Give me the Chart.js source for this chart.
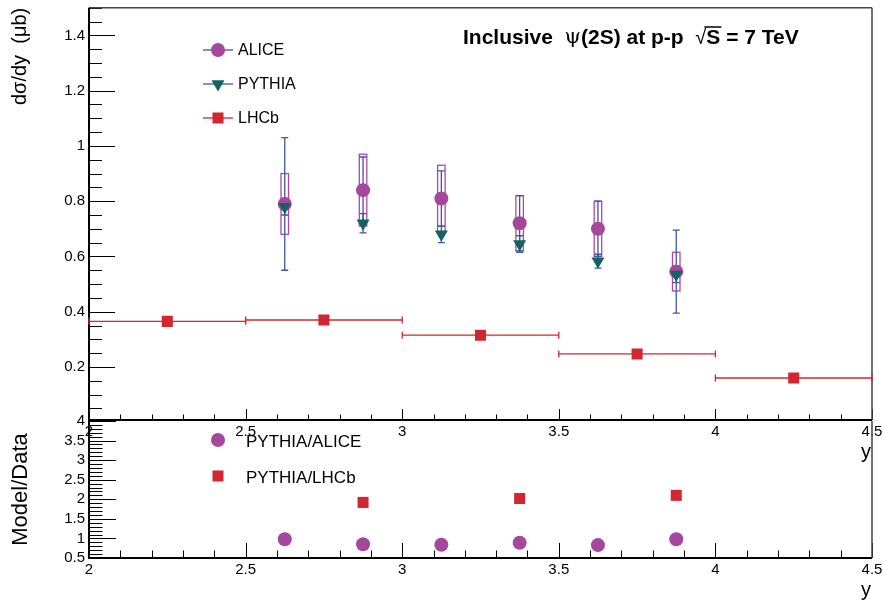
<!DOCTYPE html>
<html>
<head>
<meta charset="utf-8">
<script src="https://cdn.jsdelivr.net/npm/chart.js@4.4.1/dist/chart.umd.min.js"></script>
<style>
  html, body { margin: 0; padding: 0; background: #fff; }
  #wrap { position: relative; width: 883px; height: 604px; }
  #wrap canvas { position: absolute; left: 0; top: 0; }
</style>
</head>
<body>
<div id="wrap">
  <canvas id="mainChart" width="883" height="604"></canvas>
  <canvas id="ratioChart" width="883" height="604"></canvas>
</div>
<script>
// ALICE / PYTHIA rapidity bins
const aliceY = [2.625, 2.875, 3.125, 3.375, 3.625, 3.875];
const aliceXsec = [0.79, 0.84, 0.81, 0.72, 0.70, 0.545];
const aliceStat = [0.24, 0.12, 0.10, 0.10, 0.10, 0.15];
const aliceSyst = [0.11, 0.13, 0.12, 0.10, 0.10, 0.07];
const pythiaXsec = [0.78, 0.72, 0.68, 0.645, 0.583, 0.535];
const pythiaErr = [0.03, 0.035, 0.03, 0.03, 0.025, 0.03];

// LHCb bins
const lhcbY = [2.25, 2.75, 3.25, 3.75, 4.25];
const lhcbXsec = [0.365, 0.37, 0.315, 0.247, 0.16];
const lhcbYErr = [0.015, 0.008, 0.008, 0.006, 0.006];
const lhcbBinHalf = [0.25, 0.25, 0.25, 0.25, 0.25];

// ratios
const ratioAlice = [0.98, 0.85, 0.84, 0.89, 0.83, 0.98];
const ratioLhcbY = [2.875, 3.375, 3.875];
const ratioLhcb = [1.92, 2.02, 2.10];

// tick labels
const xTicks = [2, 2.5, 3, 3.5, 4, 4.5];
const mainYTicks = [0.2, 0.4, 0.6, 0.8, 1, 1.2, 1.4];
const ratioYTicks = [0.5, 1, 1.5, 2, 2.5, 3, 3.5, 4];

const seriesNames = ['ALICE', 'PYTHIA', 'LHCb'];
const ratioNames = ['PYTHIA/ALICE', 'PYTHIA/LHCb'];

const FONT = '"Liberation Sans", Arial, sans-serif';
const PURPLE = '#a5479d';
const BOX = '#b546a8';
const BLUE = '#3d56a6';
const TEAL = '#12645f';
const RED = '#d22630';

function drawMarker(ctx, style, cx, cy, r, color) {
    ctx.fillStyle = color;
    ctx.beginPath();
    if (style === 'circle') {
        ctx.arc(cx, cy, r, 0, Math.PI * 2);
    } else if (style === 'tri') {
        ctx.moveTo(cx - r * 0.866, cy - r * 0.5);
        ctx.lineTo(cx + r * 0.866, cy - r * 0.5);
        ctx.lineTo(cx, cy + r);
        ctx.closePath();
    } else {
        const h = r * Math.SQRT1_2;
        ctx.rect(cx - h, cy - h, 2 * h, 2 * h);
    }
    ctx.fill();
}

// ROOT style frame with inward ticks
const rootAxes = {
    id: 'rootAxes',
    beforeDatasetsDraw(chart, args, o) {
        const { ctx, chartArea: a, scales: { x, y } } = chart;
        ctx.save();
        ctx.strokeStyle = '#000';
        ctx.lineWidth = 1;
        ctx.beginPath();
        for (let i = 0; i <= 25; i++) {
            const v = 2 + i * 0.1;
            const px = Math.round(x.getPixelForValue(v)) + 0.5;
            const len = i % 5 === 0 ? o.xLen : o.xLen / 2;
            ctx.moveTo(px, a.bottom);
            ctx.lineTo(px, a.bottom - len);
        }
        for (let i = o.yFrom; i <= o.yTo; i++) {
            const v = i * o.yStep;
            if (v < y.min || v > y.max) continue;
            const py = Math.round(y.getPixelForValue(v)) + 0.5;
            const len = i % o.yPer === 0 ? o.yLen : o.yLen / 2;
            ctx.moveTo(a.left, py);
            ctx.lineTo(a.left + len, py);
        }
        ctx.stroke();

        // top/right frame
        ctx.strokeStyle = '#444';
        ctx.lineWidth = 1.5;
        ctx.beginPath();
        if (o.topLine) {
            ctx.moveTo(a.left, a.top);
            ctx.lineTo(a.right, a.top);
        }
        ctx.moveTo(a.right, a.top);
        ctx.lineTo(a.right, a.bottom);
        ctx.stroke();

        // axis lines
        ctx.strokeStyle = '#000';
        ctx.lineWidth = 2;
        ctx.beginPath();
        ctx.moveTo(a.left, a.top);
        ctx.lineTo(a.left, a.bottom);
        ctx.lineTo(a.right, a.bottom);
        ctx.stroke();
        ctx.restore();
    }
};

// error bars and systematic boxes of the main pad
const errorBars = {
    id: 'errorBars',
    beforeDatasetsDraw(chart) {
        const { ctx, scales: { x, y } } = chart;
        ctx.save();
        // ALICE systematic boxes
        ctx.strokeStyle = BOX;
        ctx.lineWidth = 1.3;
        aliceY.forEach((v, i) => {
            const x0 = x.getPixelForValue(v - 0.012);
            const x1 = x.getPixelForValue(v + 0.012);
            const y0 = y.getPixelForValue(aliceXsec[i] + aliceSyst[i]);
            const y1 = y.getPixelForValue(aliceXsec[i] - aliceSyst[i]);
            ctx.strokeRect(x0, y0, x1 - x0, y1 - y0);
        });
        // ALICE stat + PYTHIA errors
        ctx.strokeStyle = BLUE;
        ctx.lineWidth = 1.3;
        const vbar = (v, c, e) => {
            const px = x.getPixelForValue(v);
            const y0 = y.getPixelForValue(c + e);
            const y1 = y.getPixelForValue(c - e);
            ctx.beginPath();
            ctx.moveTo(px, y0); ctx.lineTo(px, y1);
            ctx.moveTo(px - 3.5, y0); ctx.lineTo(px + 3.5, y0);
            ctx.moveTo(px - 3.5, y1); ctx.lineTo(px + 3.5, y1);
            ctx.stroke();
        };
        aliceY.forEach((v, i) => vbar(v, aliceXsec[i], aliceStat[i]));
        aliceY.forEach((v, i) => vbar(v, pythiaXsec[i], pythiaErr[i]));
        // LHCb bin widths
        ctx.strokeStyle = RED;
        lhcbY.forEach((v, i) => {
            const x0 = x.getPixelForValue(v - lhcbBinHalf[i]);
            const x1 = x.getPixelForValue(v + lhcbBinHalf[i]);
            const py = y.getPixelForValue(lhcbXsec[i]);
            ctx.beginPath();
            ctx.moveTo(x0, py); ctx.lineTo(x1, py);
            ctx.moveTo(x0, py - 3.5); ctx.lineTo(x0, py + 3.5);
            ctx.moveTo(x1, py - 3.5); ctx.lineTo(x1, py + 3.5);
            const px = x.getPixelForValue(v);
            ctx.moveTo(px, y.getPixelForValue(lhcbXsec[i] + lhcbYErr[i]));
            ctx.lineTo(px, y.getPixelForValue(lhcbXsec[i] - lhcbYErr[i]));
            ctx.stroke();
        });
        ctx.restore();
    }
};

// legend, header and axis "y" labels
const mainText = {
    id: 'mainText',
    afterDraw(chart) {
        const { ctx } = chart;
        ctx.save();
        const entries = [
            { style: 'circle', r: 7, color: PURPLE, line: BLUE, cy: 50 },
            { style: 'tri', r: 7.5, color: TEAL, line: BLUE, cy: 84 },
            { style: 'rect', r: 7.8, color: RED, line: RED, cy: 118 }
        ];
        entries.forEach((e, i) => {
            ctx.strokeStyle = e.line;
            ctx.lineWidth = 1.3;
            ctx.beginPath();
            ctx.moveTo(203, e.cy); ctx.lineTo(233, e.cy);
            ctx.stroke();
            drawMarker(ctx, e.style, 218, e.cy, e.r, e.color);
            ctx.fillStyle = '#000';
            ctx.font = '16px ' + FONT;
            ctx.textBaseline = 'middle';
            ctx.textAlign = 'left';
            ctx.fillText(seriesNames[i], 238, e.cy + 1);
        });

        // header
        ctx.textBaseline = 'middle';
        const hy = 38;
        let hx = 463;
        const bold = 'bold 21px ' + FONT;
        const put = (txt, font) => {
            ctx.font = font;
            ctx.fillText(txt, hx, hy);
            hx += ctx.measureText(txt).width;
        };
        put('Inclusive  ', bold);
        put('ψ', '21px "DejaVu Serif", serif');
        put('(2S) at p-p  ', bold);
        put('√', '20px ' + FONT);
        const sx = hx;
        put('S', bold);
        ctx.lineWidth = 1.5;
        ctx.strokeStyle = '#000';
        ctx.beginPath();
        ctx.moveTo(sx - 2, hy - 11); ctx.lineTo(hx + 1, hy - 11);
        ctx.stroke();
        put(' = 7 TeV', bold);

        ctx.font = '20px ' + FONT;
        ctx.textAlign = 'right';
        ctx.fillText('y', 871, 452);
        ctx.restore();
    }
};

const ratioText = {
    id: 'ratioText',
    afterDraw(chart) {
        const { ctx } = chart;
        ctx.save();
        drawMarker(ctx, 'circle', 218, 440, 7, PURPLE);
        drawMarker(ctx, 'rect', 218, 476, 7.8, RED);
        ctx.fillStyle = '#000';
        ctx.font = '17px ' + FONT;
        ctx.textBaseline = 'middle';
        ctx.fillText(ratioNames[0], 246, 442);
        ctx.fillText(ratioNames[1], 246, 478);
        ctx.font = '20px ' + FONT;
        ctx.textAlign = 'right';
        ctx.fillText('y', 871, 590);
        ctx.restore();
    }
};

function xScale(height, padding) {
    return {
        type: 'linear', min: 2, max: 4.5,
        grid: { display: false, drawTicks: false },
        border: { display: false },
        afterBuildTicks: s => { s.ticks = xTicks.map(v => ({ value: v })); },
        afterFit: s => { s.height = height; s.paddingLeft = 0; s.paddingRight = 0; },
        ticks: {
            autoSkip: false, maxRotation: 0, padding: padding, color: '#000',
            font: { family: FONT, size: 15 },
            callback: v => String(v)
        }
    };
}

function yScale(min, max, tickList, title, titleSize) {
    return {
        type: 'linear', min: min, max: max,
        grid: { display: false, drawTicks: false },
        border: { display: false },
        afterBuildTicks: s => { s.ticks = tickList.map(v => ({ value: v })); },
        afterFit: s => { s.width = 89; s.paddingTop = 0; s.paddingBottom = 0; },
        ticks: {
            autoSkip: false, padding: 4, color: '#000',
            font: { family: FONT, size: 15 },
            callback: v => String(v)
        },
        title: {
            display: true, text: title.text, align: title.align, color: '#000',
            font: { family: FONT, size: titleSize },
            padding: { top: title.pad, bottom: 0 }
        }
    };
}

const baseOptions = {
    responsive: false,
    animation: false,
    devicePixelRatio: 1,
    events: []
};

new Chart(document.getElementById('mainChart'), {
    type: 'scatter',
    data: {
        datasets: [
            {
                label: seriesNames[1],
                data: aliceY.map((v, i) => ({ x: v, y: pythiaXsec[i] })),
                pointStyle: 'triangle', pointRotation: 180, pointRadius: 7.5,
                pointBackgroundColor: TEAL, pointBorderWidth: 0, showLine: false, order: 0
            },
            {
                label: seriesNames[0],
                data: aliceY.map((v, i) => ({ x: v, y: aliceXsec[i] })),
                pointStyle: 'circle', pointRadius: 7,
                pointBackgroundColor: PURPLE, pointBorderWidth: 0, showLine: false, order: 1
            },
            {
                label: seriesNames[2],
                data: lhcbY.map((v, i) => ({ x: v, y: lhcbXsec[i] })),
                pointStyle: 'rect', pointRadius: 7.8,
                pointBackgroundColor: RED, pointBorderWidth: 0, showLine: false, order: 2
            }
        ]
    },
    options: {
        ...baseOptions,
        layout: { padding: { left: 0, top: 4, right: 11, bottom: 0 } },
        plugins: {
            legend: { display: false },
            tooltip: { enabled: false },
            rootAxes: { xLen: 11, yFrom: 1, yTo: 30, yStep: 0.05, yPer: 4, yLen: 26, topLine: true }
        },
        scales: {
            x: xScale(184, 3),
            y: yScale(0.008, 1.5, mainYTicks, { text: 'dσ/dy  (μb)', align: 'end', pad: 8 }, 20)
        }
    },
    plugins: [rootAxes, errorBars, mainText]
});

new Chart(document.getElementById('ratioChart'), {
    type: 'scatter',
    data: {
        datasets: [
            {
                label: ratioNames[0],
                data: aliceY.map((v, i) => ({ x: v, y: ratioAlice[i] })),
                pointStyle: 'circle', pointRadius: 7,
                pointBackgroundColor: PURPLE, pointBorderWidth: 0, showLine: false
            },
            {
                label: ratioNames[1],
                data: ratioLhcbY.map((v, i) => ({ x: v, y: ratioLhcb[i] })),
                pointStyle: 'rect', pointRadius: 7.8,
                pointBackgroundColor: RED, pointBorderWidth: 0, showLine: false
            }
        ]
    },
    options: {
        ...baseOptions,
        layout: { padding: { left: 0, top: 421, right: 11, bottom: 0 } },
        plugins: {
            legend: { display: false },
            tooltip: { enabled: false },
            rootAxes: { xLen: 15, yFrom: 5, yTo: 40, yStep: 0.1, yPer: 5, yLen: 27, topLine: false }
        },
        scales: {
            x: xScale(46, 3),
            y: yScale(0.5, 4, ratioYTicks, { text: 'Model/Data', align: 'center', pad: 8 }, 22)
        }
    },
    plugins: [rootAxes, ratioText]
});
</script>
</body>
</html>
